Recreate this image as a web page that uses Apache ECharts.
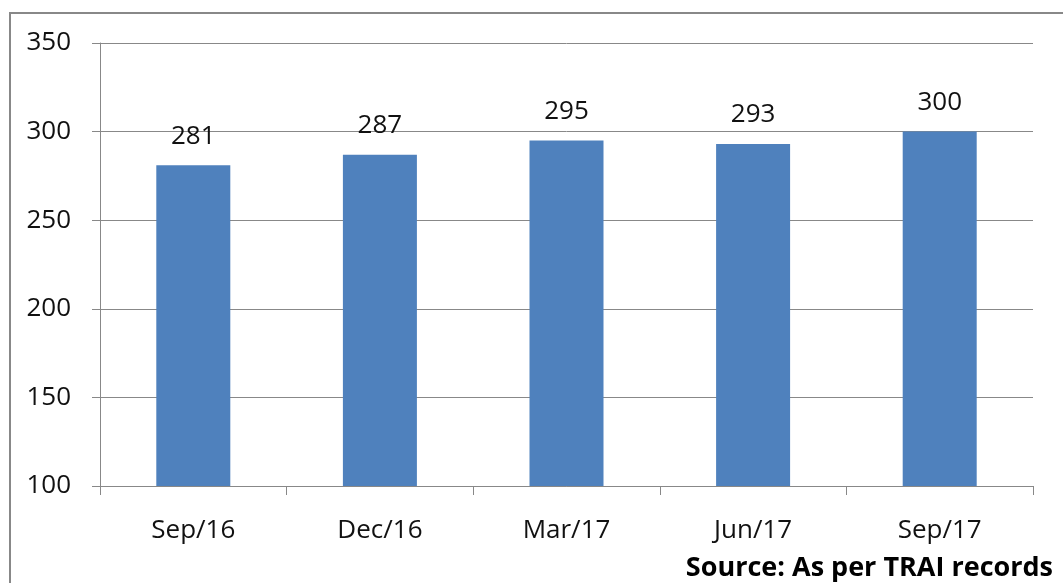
<!DOCTYPE html>
<html>
<head>
<meta charset="utf-8">
<script src="https://cdn.jsdelivr.net/npm/echarts@6/dist/echarts.min.js"></script>
<style>
  html, body { margin: 0; padding: 0; background: #fff; }
  #chart { width: 1063px; height: 583px; }
</style>
</head>
<body>
<div id="chart"></div>
<script>
// Quarterly values (in millions)
const categories = ['Sep/16', 'Dec/16', 'Mar/17', 'Jun/17', 'Sep/17'];
const values = [281, 287, 295, 293, 300];
const yTicks = { min: 100, max: 350, interval: 50 };
const sourceText = 'Source: As per TRAI records';

const FONT = '"Open Sans", "DejaVu Sans", sans-serif';
const GRAY = '#888888';

const chart = echarts.init(document.getElementById('chart'));
chart.setOption({
  animation: false,
  backgroundColor: '#ffffff',
  grid: { left: 100, right: 30, top: 43, bottom: 97 },
  graphic: [
    {
      type: 'rect',
      shape: { x: 10, y: 13, width: 1200, height: 800 },
      style: { fill: 'none', stroke: GRAY, lineWidth: 2 },
      silent: true
    },
    {
      type: 'text',
      right: 10,
      bottom: 1,
      style: {
        text: sourceText,
        font: 'bold 27px ' + FONT,
        fill: '#000'
      }
    }
  ],
  xAxis: {
    type: 'category',
    data: categories,
    axisLine: { lineStyle: { color: GRAY, width: 1 } },
    axisTick: { show: true, length: 9, lineStyle: { color: GRAY } },
    axisLabel: { margin: 32, fontSize: 26, fontFamily: FONT, color: '#111' }
  },
  yAxis: {
    type: 'value',
    min: yTicks.min,
    max: yTicks.max,
    interval: yTicks.interval,
    axisLine: { show: true, lineStyle: { color: GRAY, width: 1 } },
    axisTick: { show: true, length: 8, lineStyle: { color: GRAY } },
    splitLine: { show: true, lineStyle: { color: GRAY, width: 1 } },
    axisLabel: { margin: 29, fontSize: 26, fontFamily: FONT, color: '#111' }
  },
  series: [{
    type: 'bar',
    data: values,
    barWidth: 74,
    itemStyle: { color: '#4F81BD' },
    label: {
      show: true,
      position: 'top',
      distance: 16,
      fontSize: 26,
      fontFamily: FONT,
      color: '#111'
    }
  }]
});
</script>
</body>
</html>
